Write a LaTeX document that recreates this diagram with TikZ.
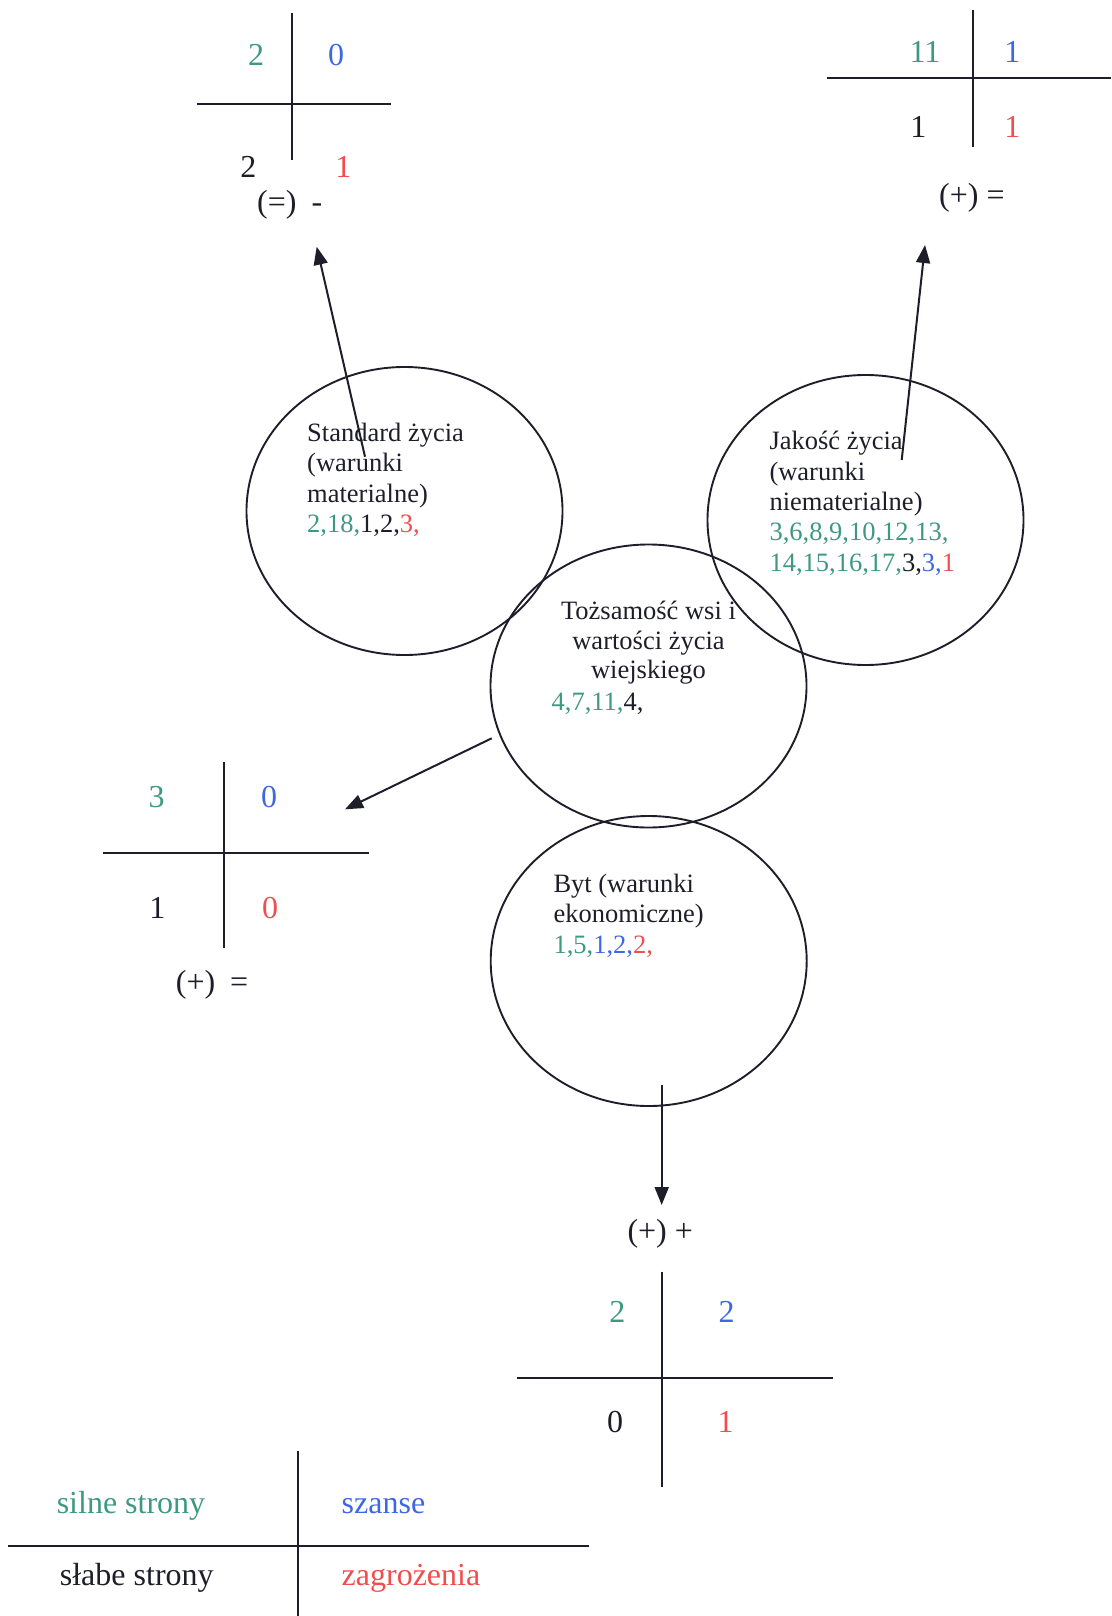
\documentclass[tikz,border=0pt]{standalone}
\usepackage{fontspec}
\setmainfont{Liberation Serif}
\usetikzlibrary{arrows.meta,shapes.geometric}
\definecolor{sgreen}{RGB}{62,152,130}
\definecolor{sblue}{RGB}{62,104,226}
\definecolor{sred}{RGB}{240,78,78}
\definecolor{ink}{RGB}{30,30,42}
\begin{document}
\begin{tikzpicture}[x=1pt,y=-1pt,
  bubble/.style={draw=ink,line width=1.9pt,ellipse,minimum width=316pt,minimum height=288pt,inner sep=0pt},
  ctext/.style={inner sep=0pt,text=ink,font=\fontsize{26.5}{30.5}\selectfont},
  num/.style={inner sep=0pt,text=ink,font=\fontsize{32}{36}\selectfont},
  crossline/.style={draw=ink,line width=2pt},
  arr/.style={draw=ink,line width=2pt,-{Triangle[length=18pt,width=14pt]}}]
\useasboundingbox (0,0) rectangle (1111,1616);

% bubbles
\node[bubble] (std) at (404.5,511) {};
\node[bubble,minimum height=290pt] (jak) at (865.5,520) {};
\node[bubble,minimum height=283pt] (toz) at (648.5,686) {};
\node[bubble,minimum height=290pt] (byt) at (648.7,961) {};

% texts in bubbles
\node[ctext,anchor=base west] (std1) at (307,441) {Standard życia};
\node[ctext,anchor=base west] (std2) at (307,471.5) {(warunki};
\node[ctext,anchor=base west] (std3) at (307,502) {materialne)};
\node[ctext,anchor=base west] (std4) at (307,532.5) {\textcolor{sgreen}{2,18,}1,2,\textcolor{sred}{3,}};

\node[ctext,anchor=base west] (jak1) at (769.3,449.5) {Jakość życia};
\node[ctext,anchor=base west] (jak2) at (769.3,480) {(warunki};
\node[ctext,anchor=base west] (jak3) at (769.3,510) {niematerialne)};
\node[ctext,anchor=base west] (jak4) at (769.3,540.5) {\textcolor{sgreen}{3,6,8,9,10,12,13,}};
\node[ctext,anchor=base west] (jak5) at (769.3,571) {\textcolor{sgreen}{14,15,16,17,}3,\textcolor{sblue}{3,}\textcolor{sred}{1}};

\node[ctext,anchor=base] (toz1) at (648.5,619.3) {Tożsamość wsi i};
\node[ctext,anchor=base] (toz2) at (648.5,649) {wartości życia};
\node[ctext,anchor=base] (toz3) at (648.5,678.5) {wiejskiego};
\node[ctext,anchor=base west] (toz4) at (551.5,710) {\textcolor{sgreen}{4,7,11,}4,};

\node[ctext,anchor=base west] (byt1) at (553.3,892.5) {Byt (warunki};
\node[ctext,anchor=base west] (byt2) at (553.3,922.5) {ekonomiczne)};
\node[ctext,anchor=base west] (byt3) at (553.3,953) {\textcolor{sgreen}{1,5,}\textcolor{sblue}{1,2,}\textcolor{sred}{2,}};

% arrows
\coordinate (a1s) at (365,456.7);   \coordinate (a1e) at (316.7,246.7);
\coordinate (a2s) at (901.7,460);   \coordinate (a2e) at (925,245);
\coordinate (a3s) at (491.7,738.3); \coordinate (a3e) at (345,809.3);
\coordinate (a4s) at (661.7,1085);  \coordinate (a4e) at (661.7,1205);
\draw[arr] (a1s) -- (a1e);
\draw[arr] (a2s) -- (a2e);
\draw[arr] (a3s) -- (a3e);
\draw[arr] (a4s) -- (a4e);

% table top-left
\draw[crossline] (292.3,13.3) -- (292.3,160);
\draw[crossline] (196.7,104) -- (390.7,104);
\node[num,text=sgreen] (t1a) at (256,55) {2};
\node[num,text=sblue]  (t1b) at (336,55) {0};
\node[num]             (t1c) at (248.3,166.7) {2};
\node[num,text=sred]   (t1d) at (343.3,166.7) {1};
\node[num,anchor=west] (t1l) at (257,205) {(=)\hspace{15pt}-};

% table top-right
\draw[crossline] (972.7,10) -- (972.7,146.7);
\draw[crossline] (826.7,77.7) -- (1111,77.7);
\node[num,text=sgreen] (t2a) at (925,51.7) {11};
\node[num,text=sblue]  (t2b) at (1012.3,51.7) {1};
\node[num]             (t2c) at (918.3,126.7) {1};
\node[num,text=sred]   (t2d) at (1012.3,126.7) {1};
\node[num,anchor=west] (t2l) at (939,198.3) {(+) =};

% table middle-left
\draw[crossline] (224,761.7) -- (224,948.3);
\draw[crossline] (102.7,852.7) -- (369.3,852.7);
\node[num,text=sgreen] (t3a) at (156.7,796.7) {3};
\node[num,text=sblue]  (t3b) at (269,796.7) {0};
\node[num]             (t3c) at (157.3,908.3) {1};
\node[num,text=sred]   (t3d) at (270,908.3) {0};
\node[num,anchor=west] (t3l) at (175.7,985) {(+)\hspace{15pt}=};

% table bottom
\draw[crossline] (662,1271.7) -- (662,1486.7);
\draw[crossline] (516.7,1378.3) -- (832.7,1378.3);
\node[num,text=sgreen] (t4a) at (617.3,1311.7) {2};
\node[num,text=sblue]  (t4b) at (726.7,1311.7) {2};
\node[num]             (t4c) at (615,1421.7) {0};
\node[num,text=sred]   (t4d) at (725.7,1421.7) {1};
\node[num,anchor=west] (t4l) at (627.3,1234) {(+) +};

% legend
\draw[crossline] (298.3,1450.5) -- (298.3,1616);
\draw[crossline] (8.2,1546) -- (589.4,1546);
\node[num,anchor=base west,text=sgreen] (lg1) at (56.6,1513) {silne strony};
\node[num,anchor=base west,text=sblue]  (lg2) at (341.5,1513) {szanse};
\node[num,anchor=base west]             (lg3) at (59.7,1585) {słabe strony};
\node[num,anchor=base west,text=sred]   (lg4) at (341.5,1585) {zagrożenia};
\end{tikzpicture}
\end{document}
